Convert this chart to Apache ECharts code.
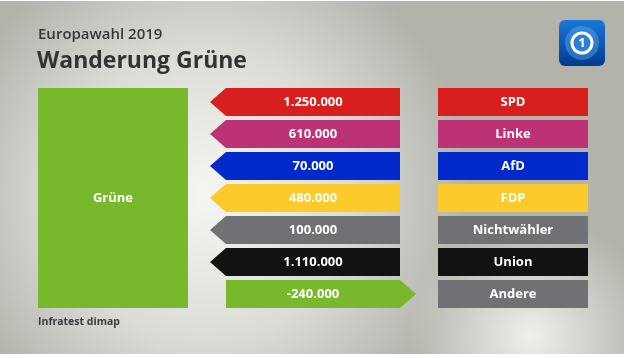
<!DOCTYPE html>
<html>
<head>
  <meta charset="utf-8">
  <title>Wanderung Grüne</title>
  <style>
    html, body { margin: 0; padding: 0; background: #ffffff; }
    #main { width: 630px; height: 358px; }
  </style>
</head>
<body>
  <div id="main"></div>
  <script src="https://cdn.jsdelivr.net/npm/echarts@6/dist/echarts.min.js"></script>
  <script>
    // Daten: Wählerwanderung zu/von den Grünen, Europawahl 2019
    const parties = ['SPD', 'Linke', 'AfD', 'FDP', 'Nichtwähler', 'Union', 'Andere'];
    const flows = [1250000, 610000, 70000, 480000, 100000, 1110000, -240000];
    const partyColors = ['#d81f1d', '#bd3276', '#0229c9', '#fdca2b', '#707174', '#121212', '#707174'];
    const targetParty = 'Grüne';
    const targetColor = '#77b82c';

    // Layout (x-Achse = Pixel)
    const TARGET_X = [38, 188];
    const ARROW_TIP = 210, ARROW_BODY = 226, ARROW_END = 400, ARROW_OUT = 416;
    const BOX_X = [438, 588];
    const FONT = '"Open Sans", "DejaVu Sans", sans-serif';

    function fmt(v) {
      const s = Math.abs(v).toString().replace(/\B(?=(\d{3})+(?!\d))/g, '.');
      return (v < 0 ? '-' : '') + s;
    }

    const chart = echarts.init(document.getElementById('main'));

    const option = {
      animation: false,
      grid: { left: 0, right: 0, top: 86, height: 224 },
      xAxis: { type: 'value', min: 0, max: 630, show: false },
      yAxis: { type: 'category', data: parties, inverse: true, show: false },
      graphic: [
        {
          type: 'rect', z: -10, silent: true,
          shape: { x: 0, y: 1, width: 624, height: 353 },
          style: {
            fill: new echarts.graphic.RadialGradient(0.33, 0.55, 0.75, [
              { offset: 0, color: '#f5f5f2' },
              { offset: 0.55, color: '#dcdcd7' },
              { offset: 1, color: '#b3b3ac' }
            ])
          }
        },
        {
          type: 'rect', z: -9, silent: true,
          shape: { x: 0, y: 1, width: 624, height: 353 },
          style: {
            fill: new echarts.graphic.RadialGradient(0.85, 0.95, 0.35, [
              { offset: 0, color: 'rgba(246,246,242,0.9)' },
              { offset: 1, color: 'rgba(246,246,242,0)' }
            ])
          }
        },
        {
          type: 'text', left: 38, top: 27,
          style: { text: 'Europawahl 2019', font: '600 15px ' + FONT, fill: '#363636' }
        },
        {
          type: 'text', left: 37, top: 50,
          style: { text: 'Wanderung ' + targetParty, font: 'bold 23px ' + FONT, fill: '#333333' }
        },
        {
          type: 'text', left: 38, top: 317,
          style: { text: 'Infratest dimap', font: 'bold 10.5px ' + FONT, fill: '#3a3a3a' }
        },
        {
          type: 'group', left: 559, top: 20,
          children: [
            {
              type: 'rect', shape: { x: 0, y: 0, width: 46, height: 46, r: 6 },
              style: {
                fill: new echarts.graphic.LinearGradient(0, 0, 0, 1, [
                  { offset: 0, color: '#1a78d8' },
                  { offset: 1, color: '#033a8e' }
                ])
              }
            },
            {
              type: 'circle', shape: { cx: 23, cy: 23, r: 17 },
              style: { fill: 'rgba(120,190,255,0.35)' }
            },
            {
              type: 'circle', shape: { cx: 23, cy: 23, r: 10 },
              style: { fill: '#2b7fd6', stroke: '#ffffff', lineWidth: 3 }
            },
            {
              type: 'text', x: 23, y: 23,
              style: { text: '1', font: 'bold 13px ' + FONT, fill: '#ffffff', align: 'center', verticalAlign: 'middle' }
            }
          ]
        }
      ],
      series: [
        {
          // Zielblock Grüne
          type: 'custom',
          data: [[0, 0]],
          renderItem: function (params, api) {
            const band = api.size([0, 1])[1];
            const top = api.coord([0, 0])[1] - band / 2 + 2;
            const bottom = api.coord([0, parties.length - 1])[1] + band / 2 - 2;
            const x0 = api.coord([TARGET_X[0], 0])[0];
            const x1 = api.coord([TARGET_X[1], 0])[0];
            return {
              type: 'group',
              children: [
                { type: 'rect', shape: { x: x0, y: top, width: x1 - x0, height: bottom - top }, style: { fill: targetColor } },
                {
                  type: 'text', x: (x0 + x1) / 2, y: (top + bottom) / 2,
                  style: { text: targetParty, font: 'bold 13px ' + FONT, fill: '#ffffff', align: 'center', verticalAlign: 'middle' }
                }
              ]
            };
          }
        },
        {
          // Pfeile mit Wanderungssalden
          type: 'custom',
          data: flows.map((v, i) => [v, i]),
          renderItem: function (params, api) {
            const v = api.value(0);
            const i = api.value(1);
            const band = api.size([0, 1])[1];
            const cy = api.coord([0, i])[1];
            const top = cy - band / 2 + 2, bottom = cy + band / 2 - 2;
            const tip = api.coord([ARROW_TIP, i])[0];
            const body = api.coord([ARROW_BODY, i])[0];
            const end = api.coord([ARROW_END, i])[0];
            const out = api.coord([ARROW_OUT, i])[0];
            const pts = v >= 0
              ? [[tip, cy], [body, top], [end, top], [end, bottom], [body, bottom]]
              : [[body, top], [end, top], [out, cy], [end, bottom], [body, bottom]];
            const color = v >= 0 ? partyColors[i] : targetColor;
            return {
              type: 'group',
              children: [
                { type: 'polygon', shape: { points: pts }, style: { fill: color } },
                {
                  type: 'text', x: (body + end) / 2, y: cy,
                  style: { text: fmt(v), font: 'bold 13px ' + FONT, fill: '#ffffff', align: 'center', verticalAlign: 'middle' }
                }
              ]
            };
          }
        },
        {
          // Parteikästen
          type: 'custom',
          data: parties.map((p, i) => [0, i]),
          renderItem: function (params, api) {
            const i = api.value(1);
            const band = api.size([0, 1])[1];
            const cy = api.coord([0, i])[1];
            const x0 = api.coord([BOX_X[0], i])[0];
            const x1 = api.coord([BOX_X[1], i])[0];
            return {
              type: 'group',
              children: [
                { type: 'rect', shape: { x: x0, y: cy - band / 2 + 2, width: x1 - x0, height: band - 4 }, style: { fill: partyColors[i] } },
                {
                  type: 'text', x: (x0 + x1) / 2, y: cy,
                  style: { text: parties[i], font: 'bold 13px ' + FONT, fill: '#ffffff', align: 'center', verticalAlign: 'middle' }
                }
              ]
            };
          }
        }
      ]
    };

    chart.setOption(option);
  </script>
</body>
</html>
